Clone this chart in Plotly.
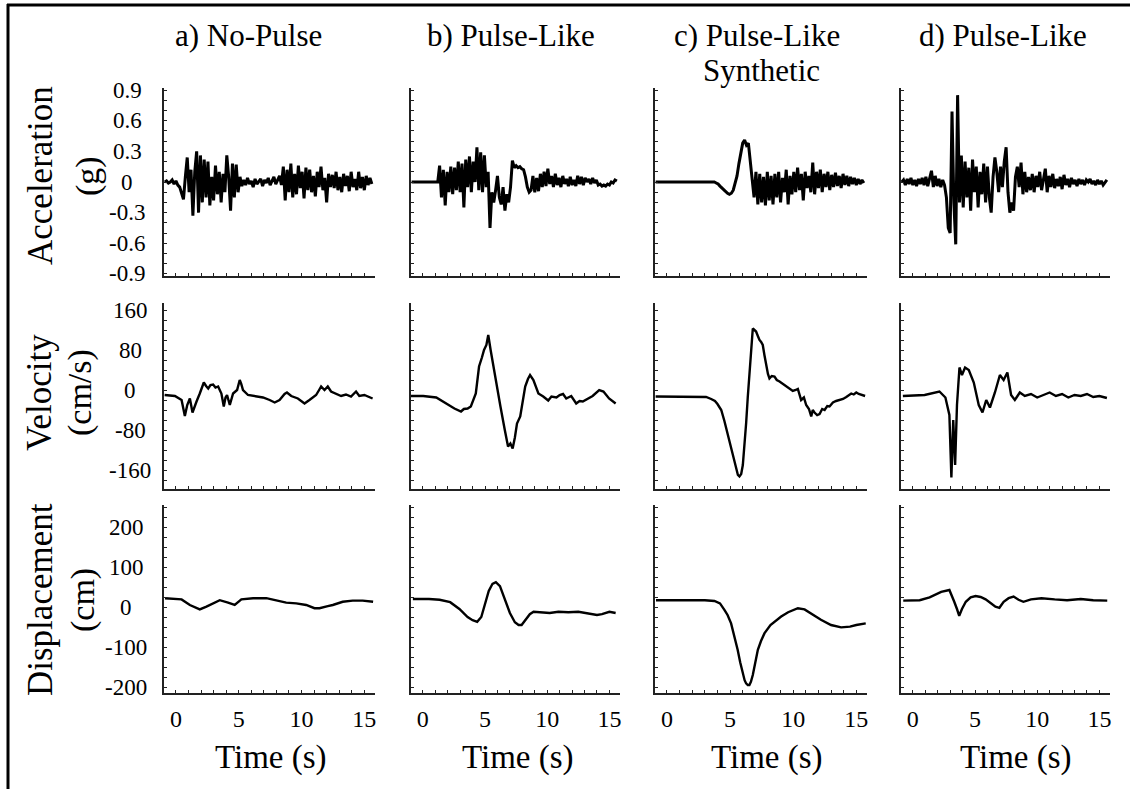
import plotly.graph_objects as go

FONT = "Liberation Serif"
W, H = 1130, 789

COL_TITLES = ["a) No-Pulse", "b) Pulse-Like", "c) Pulse-Like", "d) Pulse-Like"]
COL_SUBTITLES = ["", "", "Synthetic", ""]
ROW_TITLES = ["Acceleration", "Velocity", "Displacement"]
ROW_UNITS = ["(g)", "(cm/s)", "(cm)"]
X_TITLE = "Time (s)"
X_TICKS = [0, 5, 10, 15]
ACC_TICKS = [0.9, 0.6, 0.3, 0, -0.3, -0.6, -0.9]
VEL_TICKS = [160, 80, 0, -80, -160]
DIS_TICKS = [200, 100, 0, -100, -200]

# acceleration records (g), sampled every 0.15 s starting at t = -0.9 s
ACC_T0, ACC_DT = -0.9, 0.15
ACC_A = [0, 0.01, -0.01, 0, 0.02, -0.02, 0.01, -0.03,
         -0.05, -0.12, -0.17, 0.05, 0.24, -0.1, 0.12, -0.33, 0.1, 0.30, -0.30, 0.26, -0.2, 0.22, -0.15, 0.2,
         -0.23, 0.05, -0.18, 0.16, -0.12, 0.1, -0.2, 0.08, -0.1, 0.26, 0.05, -0.28, 0.18, -0.15, 0.17, -0.1,
         0.05, -0.04,
         0.02, -0.03, 0.04, -0.02, 0.01, -0.05, 0.03, -0.02, 0.01, 0.03, -0.04, 0.02, -0.01, 0.04, -0.03,
         0.02, 0.05, -0.02, 0.03, 0.06, -0.03,
         0.15, -0.18, 0.12, -0.1, 0.18, -0.15, 0.08, -0.12, 0.16, -0.06, 0.1, -0.16, 0.14, -0.08, 0.12,
         -0.1, 0.06, -0.14, 0.1, -0.05, 0.15, -0.08, 0.04, -0.2, 0.08, -0.05,
         0.07, -0.06, 0.1, -0.08, 0.05, -0.1, 0.08, -0.04, 0.06, -0.09, 0.1, -0.05, 0.03, -0.08, 0.1,
         -0.06, 0.05, -0.08, 0.06, -0.03, 0.04, -0.02]
ACC_B = [0] * 15 + [
         0.16, -0.15, 0.12, -0.23, 0.1, -0.1, 0.15, -0.12, 0.14, -0.08, 0.2, -0.1, 0.18, -0.25, 0.22,
         -0.05, 0.25, -0.1, 0.2, 0.0, 0.34, -0.08, 0.29, -0.1, 0.26, -0.05, 0.1,
         -0.45, -0.1, -0.2, -0.08, 0.06, -0.15, -0.22, -0.05, -0.28, -0.12, -0.2, -0.05, 0.21, 0.14, 0.16,
         0.14, 0.15, 0.13, 0.12, 0.05, -0.05, -0.1, -0.08, 0.06, -0.1, 0.04, -0.09, 0.08, -0.05, 0.1,
         -0.04, 0.13, -0.02, 0.06, -0.05, 0.08, -0.03, 0.04, -0.05, 0.06, -0.02, 0.03, -0.04, 0.05, -0.03,
         0.02, -0.04, 0.06, -0.02, 0.05, -0.03, 0.04, 0.0, 0.03, -0.02, 0.04, -0.01, 0.02, -0.03, -0.02,
         -0.04, -0.03, -0.04, -0.02, -0.03, 0.0, -0.01, 0.02, 0.01]
ACC_C = [0] * 32 + [
         -0.01, -0.02, -0.04, -0.06, -0.08, -0.1, -0.11, -0.12, -0.11, -0.08, -0.02, 0.06, 0.18, 0.3,
         0.38, 0.41, 0.36, 0.38, 0.2, 0.02, -0.15,
         0.1, -0.22, 0.08, -0.2, 0.05, -0.23, 0.1, -0.18, 0.06, -0.22, 0.08, -0.15, 0.1, -0.2, 0.04, -0.1,
         0.12, -0.22, 0.06, -0.12, 0.1, -0.1, 0.14, -0.08, 0.08, -0.18, 0.1, -0.06, 0.06, -0.1, 0.19,
         -0.12, 0.1, -0.06, 0.12, -0.1, 0.08, -0.05, 0.1, -0.08, 0.07, -0.05, 0.09, -0.04, 0.06, -0.06,
         0.08, -0.03, 0.06, -0.04, 0.05, -0.02, 0.04, -0.03, 0.03, -0.02, 0.02, -0.01]
ACC_D = [0.0, 0.02, -0.03, 0.03, -0.02, 0.04, -0.03, 0.02, -0.04, 0.03,
         -0.02, 0.04, -0.03, 0.05, -0.04, 0.03, 0.11, -0.05, 0.06, -0.04, 0.03, -0.05, 0.02, -0.03,
         -0.15, -0.45, -0.5, 0.69, -0.2, -0.61, 0.85, -0.2, 0.26, -0.25, 0.2, -0.15, 0.14, -0.28, 0.22,
         -0.1, 0.15, -0.25, 0.1, -0.12, 0.18, -0.2, 0.15, -0.15, -0.3, 0.05, 0.24, 0.1, -0.1, 0.15, -0.05,
         0.2, 0.34, -0.1, -0.3, -0.2, -0.28, 0.05, 0.15, -0.05, 0.19, -0.12, 0.1, -0.1, 0.05, -0.08, 0.08,
         -0.1, 0.06, -0.05, 0.1, -0.08, 0.04, 0.13, -0.1, 0.06, -0.05, 0.08, -0.06, 0.03, -0.04, 0.05,
         -0.07, 0.07, -0.03, 0.03, -0.05, 0.04, -0.02, 0.02, -0.04, 0.03, -0.02, 0.02, -0.03, 0.02, 0.0,
         0.03, -0.02, 0.01, -0.03, 0.02, -0.02, 0.01, -0.03, 0.0, 0.02]

# velocity records (t [s], v [cm/s])
VEL_A = [(-0.9, -10), (-0.08, -12), (0.45, -20), (0.71, -52), (0.9, -30), (1.11, -17), (1.32, -45),
         (1.5, -30), (1.64, -23), (1.9, -7), (2.05, 5), (2.22, 15), (2.4, 8), (2.57, 3), (2.75, 10),
         (2.96, 11), (3.15, 5), (3.36, 7), (3.62, -7), (3.81, -33), (3.95, -15), (4.07, -10), (4.29, -30),
         (4.45, -15), (4.55, -7), (4.87, 0), (5.08, 20), (5.2, 12), (5.34, 0), (5.74, -10), (6.4, -12),
         (6.93, -15), (7.46, -20), (7.86, -25), (8.25, -20), (8.65, -8), (8.84, -5), (9.0, -8),
         (9.18, -12), (9.71, -17), (10.24, -27), (10.63, -20), (11.16, -10), (11.4, 0), (11.56, 7),
         (11.83, 0), (12.09, 7), (12.35, -3), (12.75, -7), (13.15, -12), (13.54, -9), (13.94, -13),
         (14.34, -3), (14.6, -12), (15.0, -10), (15.4, -15), (15.66, -17)]
VEL_B = [(-0.95, -12), (0.03, -12), (1.08, -15), (1.88, -27), (2.54, -37), (3.07, -43), (3.3, -38),
         (3.6, -37), (3.86, -33), (4.26, -7), (4.52, 47), (4.75, 65), (4.92, 80), (5.11, 90), (5.26, 110),
         (5.45, 80), (5.65, 50), (5.85, 27), (6.05, -5), (6.24, -33), (6.59, -80), (6.85, -113),
         (7.04, -107), (7.22, -117), (7.4, -95), (7.57, -67), (7.83, -53), (8.05, -20), (8.23, 7),
         (8.45, 22), (8.62, 30), (8.89, 20), (9.1, 5), (9.29, -7), (9.68, -13), (10.08, -21),
         (10.34, -13), (10.74, -15), (11.0, -10), (11.27, -8), (11.53, -17), (11.93, -12), (12.33, -27),
         (12.6, -22), (12.86, -23), (13.25, -17), (13.65, -12), (14.18, 0), (14.52, -3), (14.97, -17),
         (15.5, -27)]
VEL_C = [(-0.9, -13), (1.0, -13), (2.0, -13), (2.7, -13), (3.1, -14), (3.5, -18), (3.8, -22), (4.0, -28),
         (4.3, -40), (4.55, -62), (4.8, -88), (5.08, -113), (5.3, -140), (5.48, -160), (5.62, -170),
         (5.74, -173), (5.88, -168), (6.01, -150), (6.15, -112), (6.27, -67), (6.4, -15), (6.53, 33),
         (6.67, 85), (6.8, 123), (6.93, 120), (7.06, 117), (7.2, 108), (7.33, 100), (7.46, 96),
         (7.59, 90), (7.72, 70), (7.86, 47), (8.0, 32), (8.12, 23), (8.3, 28), (8.52, 27), (8.7, 20),
         (8.92, 17), (9.1, 14), (9.31, 10), (9.5, 6), (9.71, 3), (9.97, -2), (10.2, 0), (10.37, 2),
         (10.63, -20), (10.85, -15), (11.03, -30), (11.25, -38), (11.43, -53), (11.55, -40), (11.69, -45),
         (11.9, -50), (12.09, -48), (12.3, -38), (12.49, -40), (12.7, -32), (12.88, -33), (13.15, -25),
         (13.4, -22), (13.68, -20), (13.95, -18), (14.21, -14), (14.4, -10), (14.6, -7), (14.8, -9),
         (15.0, -5), (15.2, -8), (15.4, -10), (15.7, -12)]
VEL_D = [(-0.8, -12), (0.95, -10), (2.14, -3), (2.62, -15), (2.94, -50), (3.1, -175), (3.25, -60),
         (3.4, -150), (3.55, -30), (3.75, 45), (3.95, 30), (4.2, 45), (4.5, 40), (4.9, 15), (5.3, -30),
         (5.6, -45), (5.9, -20), (6.2, -35), (6.6, -5), (7.0, 30), (7.3, 20), (7.6, 35), (7.9, -10),
         (8.2, -20), (8.6, -5), (9.0, -12), (9.5, -8), (10.0, -15), (10.5, -10), (11.0, -5), (11.5, -12),
         (12.0, -8), (12.5, -15), (13.0, -10), (13.5, -12), (14.0, -8), (14.5, -14), (15.0, -12),
         (15.6, -16)]

# displacement records (t [s], d [cm])
DIS_A = [(-0.87, 22), (0.45, 19), (1.11, 5), (1.9, -6), (2.43, 1), (3.49, 17), (4.15, 11), (4.68, 5),
         (5.21, 19), (6.14, 22), (7.2, 22), (7.99, 16), (8.78, 11), (9.58, 9), (10.37, 5), (11.03, -3),
         (11.43, -3), (12.09, 2), (12.49, 5), (13.28, 13), (14.07, 16), (14.87, 16), (15.7, 13)]
DIS_B = [(-0.8, 20), (0.5, 20), (1.35, 18), (2.2, 12), (2.94, -5), (3.6, -25), (4.0, -33), (4.37, -37),
         (4.7, -25), (5.0, 5), (5.3, 40), (5.6, 58), (5.87, 62), (6.2, 52), (6.6, 20), (7.0, -15),
         (7.4, -38), (7.7, -45), (7.94, -45), (8.3, -30), (8.6, -18), (8.9, -12), (9.5, -14), (10.2, -15),
         (10.9, -12), (11.7, -13), (12.5, -12), (13.3, -16), (14.0, -20), (14.4, -18), (15.0, -12),
         (15.5, -15)]
DIS_C = [(-0.87, 17), (2.0, 17), (3.0, 17), (3.76, 15), (4.2, 9), (4.55, -7), (4.8, -20), (5.08, -41),
         (5.35, -72), (5.6, -107), (5.8, -138), (6.0, -166), (6.15, -183), (6.27, -191), (6.4, -195),
         (6.53, -195), (6.65, -187), (6.8, -170), (7.0, -140), (7.2, -107), (7.45, -85), (7.72, -66),
         (8.2, -45), (8.6, -35), (9.05, -24), (9.6, -13), (10.0, -7), (10.37, -3), (10.9, -6),
         (11.4, -16), (12.2, -32), (13.0, -45), (13.8, -51), (14.5, -49), (15.0, -45), (15.75, -41)]
DIS_D = [(-0.77, 16), (0.55, 17), (1.35, 24), (2.28, 38), (2.94, 42.5), (3.15, 28), (3.33, 13),
         (3.55, -5), (3.73, -22), (3.95, -5), (4.26, 13), (4.65, 24), (5.05, 27.5), (5.45, 25),
         (5.85, 19), (6.25, 10), (6.64, 1), (6.96, -2), (7.3, 13), (7.7, 22), (8.1, 26), (8.5, 18),
         (8.89, 13), (9.5, 19), (10.34, 22), (11.4, 19), (12.4, 17), (13.5, 20), (14.5, 17), (15.63, 16)]

ACC_TIME = [round(ACC_T0 + ACC_DT * i, 2) for i in range(len(ACC_A))]

# ---------------- layout geometry (pixels) ----------------
COL_PX = [(164, 375), (411, 620), (655, 867), (901, 1110)]
ROW_PX = [(88, 276), (303, 489), (505, 693)]
X_RANGE = [-0.95, 15.85]
Y_RANGES = [[-0.92, 0.92], [-198, 174], [-215, 255]]
Y_TICKS = [ACC_TICKS, VEL_TICKS, DIS_TICKS]
Y_MINOR = [0.1, 20, 25]
Y_LABEL_CX = [127, 130, 126]   # centre of the (centred) y tick labels, px


def px_x(p):
    return p / W


def px_y(p):
    return 1 - p / H


fig = go.Figure()

series = [
    [(ACC_TIME, ACC_A), (ACC_TIME, ACC_B), (ACC_TIME, ACC_C), (ACC_TIME, ACC_D)],
    [tuple(map(list, zip(*VEL_A))), tuple(map(list, zip(*VEL_B))),
     tuple(map(list, zip(*VEL_C))), tuple(map(list, zip(*VEL_D)))],
    [tuple(map(list, zip(*DIS_A))), tuple(map(list, zip(*DIS_B))),
     tuple(map(list, zip(*DIS_C))), tuple(map(list, zip(*DIS_D)))],
]

layout = dict(
    width=W, height=H, margin=dict(l=0, r=0, t=0, b=0),
    paper_bgcolor="white", plot_bgcolor="white", showlegend=False,
    font=dict(family=FONT, color="black"),
)

annotations = []
AX_COLOR = "#222222"
for r in range(3):
    for c in range(4):
        k = r * 4 + c + 1
        xs, ys = series[r][c]
        fig.add_trace(go.Scatter(
            x=xs, y=ys, mode="lines",
            line=dict(color="black", width=3.0 if r == 0 else 2.4),
            xaxis=f"x{k}", yaxis=f"y{k}", hoverinfo="skip"))
        xa = dict(
            domain=[px_x(COL_PX[c][0]), px_x(COL_PX[c][1])], anchor=f"y{k}",
            range=X_RANGE, showgrid=False, zeroline=False,
            showline=True, linecolor=AX_COLOR, linewidth=2,
            ticks="inside", ticklen=3, tickcolor=AX_COLOR, tickwidth=1,
            tickmode="array", tickvals=X_TICKS,
            showticklabels=(r == 2), tickfont=dict(size=24, family=FONT),
            ticklabelstandoff=3,
            minor=dict(ticks="inside", ticklen=3, dtick=1, tick0=0, tickcolor=AX_COLOR, showgrid=False),
            fixedrange=True,
        )
        ya = dict(
            domain=[px_y(ROW_PX[r][1]), px_y(ROW_PX[r][0])], anchor=f"x{k}",
            range=Y_RANGES[r], showgrid=False, zeroline=False,
            showline=True, linecolor=AX_COLOR, linewidth=2,
            ticks="inside", ticklen=3, tickcolor=AX_COLOR, tickwidth=1,
            tickmode="array", tickvals=Y_TICKS[r],
            showticklabels=False,
            minor=dict(ticks="inside", ticklen=3, dtick=Y_MINOR[r], tick0=0, tickcolor=AX_COLOR,
                       showgrid=False),
            fixedrange=True,
        )
        sfx = "" if k == 1 else str(k)
        layout["xaxis" + sfx] = xa
        layout["yaxis" + sfx] = ya
        if c == 0:
            # centred tick labels, positioned on the panel's own y axis
            for v in Y_TICKS[r]:
                annotations.append(dict(text="%g" % v, x=px_x(Y_LABEL_CX[r]), y=v, xref="paper",
                                        yref=f"y{k}", xanchor="center", yanchor="middle",
                                        showarrow=False, font=dict(size=23, family=FONT, color="black")))

TITLE_X = [248, 511, 757, 1003]
TITLE_Y, SUB_Y = 36, 70
for c in range(4):
    annotations.append(dict(text=COL_TITLES[c], x=px_x(TITLE_X[c]), y=px_y(TITLE_Y), xref="paper",
                            yref="paper", xanchor="center", yanchor="middle", showarrow=False,
                            font=dict(size=31, family=FONT, color="black")))
    if COL_SUBTITLES[c]:
        annotations.append(dict(text=COL_SUBTITLES[c], x=px_x(761), y=px_y(SUB_Y), xref="paper",
                                yref="paper", xanchor="center", yanchor="middle", showarrow=False,
                                font=dict(size=31, family=FONT, color="black")))
TIME_X = [271, 518, 767, 1016]
for c in range(4):
    annotations.append(dict(text=X_TITLE, x=px_x(TIME_X[c]), y=px_y(757), xref="paper", yref="paper",
                            xanchor="center", yanchor="middle", showarrow=False,
                            font=dict(size=33, family=FONT, color="black")))
ROW_CY = [176, 393, 600]
UNIT_X = [88, 80, 83]
for r in range(3):
    annotations.append(dict(text=ROW_TITLES[r], x=px_x(40), y=px_y(ROW_CY[r]), xref="paper", yref="paper",
                            xanchor="center", yanchor="middle", textangle=-90, showarrow=False,
                            font=dict(size=35, family=FONT, color="black")))
    annotations.append(dict(text=ROW_UNITS[r], x=px_x(UNIT_X[r]), y=px_y(ROW_CY[r]), xref="paper",
                            yref="paper", xanchor="center", yanchor="middle", textangle=-90,
                            showarrow=False, font=dict(size=34, family=FONT, color="black")))
layout["annotations"] = annotations

layout["shapes"] = [
    dict(type="line", xref="paper", yref="paper", x0=px_x(7), x1=1.0, y0=px_y(5), y1=px_y(5),
         line=dict(color="black", width=3)),
    dict(type="line", xref="paper", yref="paper", x0=px_x(8), x1=px_x(8), y0=px_y(4), y1=0,
         line=dict(color="black", width=3)),
]

fig.update_layout(**layout)
fig.write_html("out.html")
